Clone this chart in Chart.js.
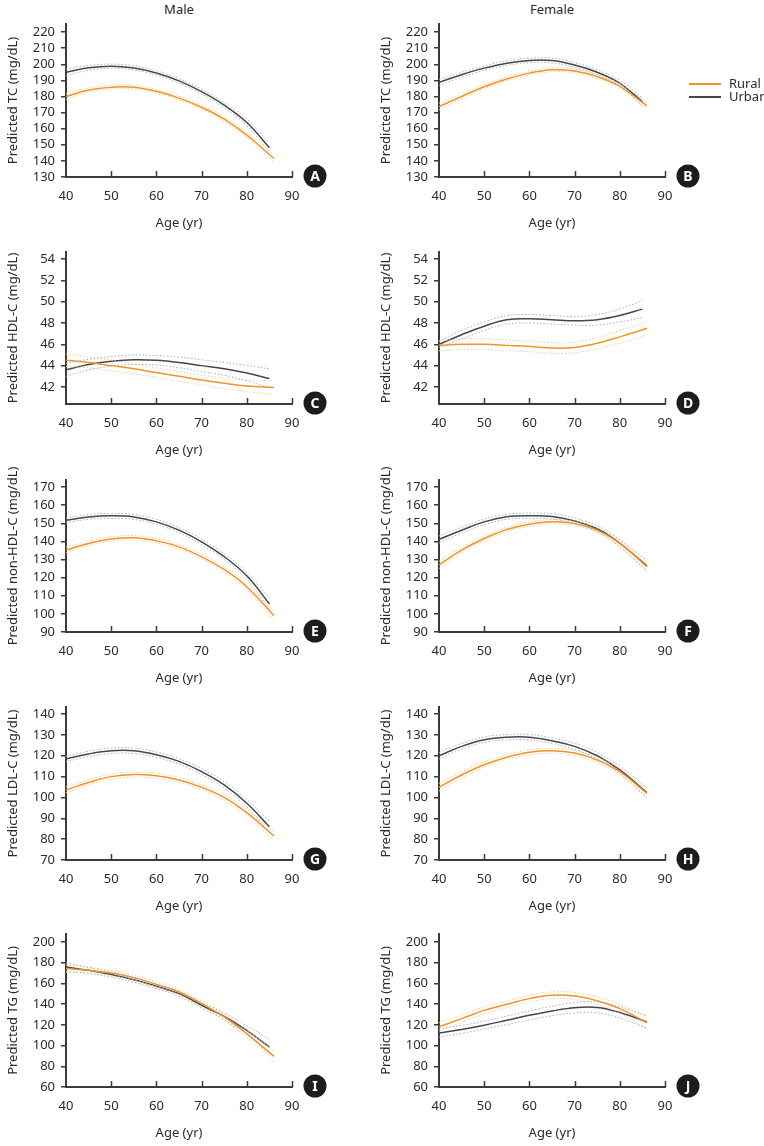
<!DOCTYPE html>
<html lang="en">
<head>
<meta charset="UTF-8" />
<script src="https://cdn.jsdelivr.net/npm/chart.js@4.4.1/dist/chart.umd.min.js"></script>
<title>Predicted lipid levels by age</title>
<style>
  body { margin: 0; background: #fff; font-family: "Noto Sans", sans-serif; color: #2b2b2b; }
  #wrap { position: relative; width: 764px; height: 1146px; overflow: hidden; }
  #wrap canvas { position: absolute; }
  .head { position: absolute; top: 0; width: 120px; text-align: center; font-size: 13px; line-height: 18px; }
  #legend { position: absolute; left: 689px; top: 77px; font-size: 13px; line-height: 13px; z-index: 5; }
  #legend div { height: 13px; display: flex; align-items: center; }
  #legend span.ln { display: inline-block; width: 32px; height: 2px; margin-right: 8px; }
</style>
</head>
<body>
<div id="wrap">
  <div class="head" style="left:119px">Male</div>
  <div class="head" style="left:492px">Female</div>
  <div id="legend">
    <div><span class="ln" style="background:#f39325"></span>Rural</div>
    <div><span class="ln" style="background:#43474c"></span>Urban</div>
  </div>
</div>
<script>
// ages (yr)
const ageUrban = [40, 45, 50, 55, 60, 65, 70, 75, 80, 85];
const ageRural = [40, 45, 50, 55, 60, 65, 70, 75, 80, 86];
const xTicks = [40, 50, 60, 70, 80, 90];

// tick labels
const tcTicks = [130, 140, 150, 160, 170, 180, 190, 200, 210, 220];
const hdlTicks = [42, 44, 46, 48, 50, 52, 54];
const nonHdlTicks = [90, 100, 110, 120, 130, 140, 150, 160, 170];
const ldlTicks = [70, 80, 90, 100, 110, 120, 130, 140];
const tgTicks = [60, 80, 100, 120, 140, 160, 180, 200];

// A: TC, male
const tcMaleUrban   = [195, 197.8, 198.8, 197.7, 194.6, 189.7, 183, 174.6, 163.8, 148.2];
const tcMaleUrbanHi = [197, 199.3, 200.1, 199, 195.9, 191.1, 184.5, 176.3, 165.8, 151];
const tcMaleUrbanLo = [193, 196.3, 197.5, 196.4, 193.3, 188.3, 181.5, 172.9, 161.8, 145.4];
const tcMaleRural   = [180, 184, 185.8, 185.8, 183.2, 179, 173.3, 165.9, 156, 141.5];
const tcMaleRuralHi = [181.8, 185.3, 187, 187, 184.4, 180.2, 174.5, 167.3, 157.6, 143.8];
const tcMaleRuralLo = [178.2, 182.7, 184.6, 184.6, 182, 177.8, 172.1, 164.5, 154.4, 139.2];

// B: TC, female
const tcFemaleUrban   = [188.7, 193.5, 197.6, 200.7, 202.4, 202.3, 199.5, 195, 188.2, 176.8];
const tcFemaleUrbanHi = [190.6, 195, 199, 202.1, 203.8, 203.8, 201, 196.6, 190, 179.2];
const tcFemaleUrbanLo = [186.8, 192, 196.2, 199.3, 201, 200.8, 198, 193.4, 186.4, 174.4];
const tcFemaleRural   = [173.8, 180, 186, 190.8, 194.5, 196.6, 195.8, 192.3, 186.3, 174.2];
const tcFemaleRuralHi = [175.8, 181.5, 187.3, 192, 195.7, 197.8, 197, 193.6, 187.8, 176.4];
const tcFemaleRuralLo = [171.8, 178.5, 184.7, 189.6, 193.3, 195.4, 194.6, 191, 184.8, 172];

// C: HDL-C, male
const hdlMaleUrban   = [43.6, 44.1, 44.4, 44.55, 44.5, 44.3, 44.0, 43.7, 43.3, 42.8];
const hdlMaleUrbanHi = [44.2, 44.6, 44.85, 45.0, 44.95, 44.8, 44.55, 44.3, 44.0, 43.7];
const hdlMaleUrbanLo = [43.0, 43.6, 43.95, 44.1, 44.05, 43.8, 43.45, 43.1, 42.6, 41.9];
const hdlMaleRural   = [44.5, 44.3, 44.0, 43.7, 43.35, 43.0, 42.65, 42.35, 42.1, 41.95];
const hdlMaleRuralHi = [45.1, 44.8, 44.5, 44.15, 43.8, 43.45, 43.1, 42.85, 42.65, 42.6];
const hdlMaleRuralLo = [43.9, 43.8, 43.5, 43.25, 42.9, 42.55, 42.2, 41.85, 41.55, 41.3];

// D: HDL-C, female
const hdlFemaleUrban   = [46.0, 46.9, 47.7, 48.3, 48.4, 48.3, 48.2, 48.3, 48.7, 49.3];
const hdlFemaleUrbanHi = [46.3, 47.3, 48.1, 48.7, 48.8, 48.7, 48.6, 48.8, 49.3, 50.1];
const hdlFemaleUrbanLo = [45.7, 46.5, 47.3, 47.9, 48.0, 47.9, 47.8, 47.8, 48.1, 48.5];
const hdlFemaleRural   = [45.9, 46.0, 46.0, 45.9, 45.8, 45.65, 45.7, 46.1, 46.7, 47.5];
const hdlFemaleRuralHi = [46.3, 46.5, 46.5, 46.4, 46.3, 46.15, 46.2, 46.6, 47.3, 48.1];
const hdlFemaleRuralLo = [45.4, 45.5, 45.5, 45.4, 45.3, 45.15, 45.2, 45.6, 46.1, 46.9];

// E: non-HDL-C, male
const nhdlMaleUrban   = [151.7, 153.5, 154.1, 153.5, 150.8, 146.2, 139.8, 131.6, 121, 105.5];
const nhdlMaleUrbanHi = [153, 154.8, 155.5, 154.9, 152.2, 147.6, 141.3, 133.2, 123, 108.5];
const nhdlMaleUrbanLo = [150.4, 152.2, 152.7, 152.1, 149.4, 144.8, 138.3, 130, 119, 102.5];
const nhdlMaleRural   = [135.2, 138.9, 141.3, 142, 140.3, 137, 131.5, 124.5, 115, 99];
const nhdlMaleRuralHi = [136.8, 140.1, 142.5, 143.2, 141.5, 138.2, 132.8, 126, 116.7, 101.3];
const nhdlMaleRuralLo = [133.6, 137.7, 140.1, 140.8, 139.1, 135.8, 130.2, 123, 113.3, 96.7];

// F: non-HDL-C, female (urban also runs to 86 here)
const nhdlFemaleUrban   = [141.1, 146.2, 150.8, 153.6, 154.2, 153.8, 151.3, 147, 139, 126.5];
const nhdlFemaleUrbanHi = [143, 147.8, 152.3, 155, 155.6, 155.3, 152.9, 148.7, 141, 129.5];
const nhdlFemaleUrbanLo = [139.2, 144.6, 149.3, 152.2, 152.8, 152.3, 149.7, 145.3, 137, 123.5];
const nhdlFemaleRural   = [127, 135.2, 141.6, 146.6, 149.5, 150.8, 149.9, 146.2, 139, 126];
const nhdlFemaleRuralHi = [129, 136.7, 142.9, 147.8, 150.7, 152, 151.1, 147.5, 140.5, 128.2];
const nhdlFemaleRuralLo = [125, 133.7, 140.3, 145.4, 148.3, 149.6, 148.7, 144.9, 137.5, 123.8];

// G: LDL-C, male
const ldlMaleUrban   = [118.5, 120.9, 122.4, 122.4, 120.5, 117.3, 112.4, 106, 97.2, 86];
const ldlMaleUrbanHi = [119.8, 122.2, 123.7, 123.7, 121.8, 118.6, 113.8, 107.6, 99, 88.6];
const ldlMaleUrbanLo = [117.2, 119.6, 121.1, 121.1, 119.2, 116, 111, 104.4, 95.4, 83.4];
const ldlMaleRural   = [103.6, 107.2, 110, 111, 110.4, 108.4, 104.9, 100, 92.7, 81.5];
const ldlMaleRuralHi = [105, 108.4, 111.2, 112.2, 111.6, 109.6, 106.1, 101.4, 94.3, 83.6];
const ldlMaleRuralLo = [102.2, 106, 108.8, 109.8, 109.2, 107.2, 103.7, 98.6, 91.1, 79.4];

// H: LDL-C, female (urban also runs to 86 here)
const ldlFemaleUrban   = [120, 124.5, 127.7, 128.9, 128.9, 127.2, 124.5, 120, 113.2, 102.3];
const ldlFemaleUrbanHi = [121.6, 125.9, 129, 130.2, 130.2, 128.5, 126, 121.6, 115, 104.8];
const ldlFemaleUrbanLo = [118.4, 123.1, 126.4, 127.6, 127.6, 125.9, 123, 118.4, 111.4, 99.8];
const ldlFemaleRural   = [104.9, 110.8, 115.7, 119.3, 121.7, 122.4, 121.3, 118, 112.4, 102];
const ldlFemaleRuralHi = [106.7, 112.3, 117, 120.5, 122.9, 123.6, 122.5, 119.3, 113.9, 104];
const ldlFemaleRuralLo = [103.1, 109.3, 114.4, 118.1, 120.5, 121.2, 120.1, 116.7, 110.9, 100];

// I: TG, male
const tgMaleUrban   = [175.9, 172.6, 168.5, 163.6, 157.2, 150.1, 138.9, 128.2, 114.7, 98.6];
const tgMaleUrbanHi = [180, 175.5, 171, 166, 159.5, 152.5, 141.5, 131.5, 119, 106];
const tgMaleUrbanLo = [171.8, 169.7, 166, 161.2, 154.9, 147.7, 136.3, 124.9, 110.4, 91.2];
const tgMaleRural   = [174.3, 172.6, 170, 165.6, 159.1, 151.7, 140.5, 127.6, 111.5, 89.6];
const tgMaleRuralHi = [177.8, 175.4, 172.5, 168, 161.5, 154.2, 143.2, 130.6, 115, 94.5];
const tgMaleRuralLo = [170.8, 169.8, 167.5, 163.2, 156.7, 149.2, 137.8, 124.6, 108, 84.7];

// J: TG, female (urban also runs to 86 here)
const tgFemaleUrban   = [112.1, 115.6, 119.7, 124.4, 129.2, 133.4, 136.5, 136.8, 132, 122.8];
const tgFemaleUrbanHi = [116, 119.5, 123.5, 128.5, 133.5, 138, 141.5, 142, 137.5, 129];
const tgFemaleUrbanLo = [108.2, 111.7, 115.9, 120.3, 124.9, 128.8, 131.5, 131.6, 126.5, 116.6];
const tgFemaleRural   = [118, 126, 134, 139.8, 145.3, 148.5, 147.8, 143.2, 135.6, 122];
const tgFemaleRuralHi = [122, 129.5, 137.3, 143, 148.5, 151.8, 151.3, 147, 139.8, 127.5];
const tgFemaleRuralLo = [114, 122.5, 130.7, 136.6, 142.1, 145.2, 144.3, 139.4, 131.4, 116.5];

const ruralColor = '#f39325';
const urbanColor = '#43474c';
const ruralCiColor = '#f7c98f';
const urbanCiColor = '#a9adb2';
const axisColor = '#3b3b3b';
const textColor = '#2b2b2b';
const fontFamily = "'Noto Sans', sans-serif";

// layout of the ten panels
const panels = [
  { letter: 'A', col: 0, top: 24,  bottom: 177,  title: 'Predicted TC (mg/dL)',        min: 130,  max: 225,   ticks: tcTicks,     uAge: ageUrban, u: [tcMaleUrban, tcMaleUrbanHi, tcMaleUrbanLo], r: [tcMaleRural, tcMaleRuralHi, tcMaleRuralLo] },
  { letter: 'B', col: 1, top: 24,  bottom: 177,  title: 'Predicted TC (mg/dL)',        min: 130,  max: 225,   ticks: tcTicks,     uAge: ageUrban, u: [tcFemaleUrban, tcFemaleUrbanHi, tcFemaleUrbanLo], r: [tcFemaleRural, tcFemaleRuralHi, tcFemaleRuralLo] },
  { letter: 'C', col: 0, top: 252, bottom: 404,  title: 'Predicted HDL-C (mg/dL)',     min: 40.4, max: 54.66, ticks: hdlTicks,    uAge: ageUrban, u: [hdlMaleUrban, hdlMaleUrbanHi, hdlMaleUrbanLo], r: [hdlMaleRural, hdlMaleRuralHi, hdlMaleRuralLo] },
  { letter: 'D', col: 1, top: 252, bottom: 404,  title: 'Predicted HDL-C (mg/dL)',     min: 40.4, max: 54.66, ticks: hdlTicks,    uAge: ageUrban, u: [hdlFemaleUrban, hdlFemaleUrbanHi, hdlFemaleUrbanLo], r: [hdlFemaleRural, hdlFemaleRuralHi, hdlFemaleRuralLo] },
  { letter: 'E', col: 0, top: 480, bottom: 632,  title: 'Predicted non-HDL-C (mg/dL)', min: 90,   max: 173.9, ticks: nonHdlTicks, uAge: ageUrban, u: [nhdlMaleUrban, nhdlMaleUrbanHi, nhdlMaleUrbanLo], r: [nhdlMaleRural, nhdlMaleRuralHi, nhdlMaleRuralLo] },
  { letter: 'F', col: 1, top: 480, bottom: 632,  title: 'Predicted non-HDL-C (mg/dL)', min: 90,   max: 173.9, ticks: nonHdlTicks, uAge: ageRural, u: [nhdlFemaleUrban, nhdlFemaleUrbanHi, nhdlFemaleUrbanLo], r: [nhdlFemaleRural, nhdlFemaleRuralHi, nhdlFemaleRuralLo] },
  { letter: 'G', col: 0, top: 707, bottom: 860,  title: 'Predicted LDL-C (mg/dL)',     min: 70,   max: 143.4, ticks: ldlTicks,    uAge: ageUrban, u: [ldlMaleUrban, ldlMaleUrbanHi, ldlMaleUrbanLo], r: [ldlMaleRural, ldlMaleRuralHi, ldlMaleRuralLo] },
  { letter: 'H', col: 1, top: 707, bottom: 860,  title: 'Predicted LDL-C (mg/dL)',     min: 70,   max: 143.4, ticks: ldlTicks,    uAge: ageRural, u: [ldlFemaleUrban, ldlFemaleUrbanHi, ldlFemaleUrbanLo], r: [ldlFemaleRural, ldlFemaleRuralHi, ldlFemaleRuralLo] },
  { letter: 'I', col: 0, top: 934, bottom: 1087, title: 'Predicted TG (mg/dL)',        min: 60,   max: 207.7, ticks: tgTicks,     uAge: ageUrban, u: [tgMaleUrban, tgMaleUrbanHi, tgMaleUrbanLo], r: [tgMaleRural, tgMaleRuralHi, tgMaleRuralLo] },
  { letter: 'J', col: 1, top: 934, bottom: 1087, title: 'Predicted TG (mg/dL)',        min: 60,   max: 207.7, ticks: tgTicks,     uAge: ageRural, u: [tgFemaleUrban, tgFemaleUrbanHi, tgFemaleUrbanLo], r: [tgFemaleRural, tgFemaleRuralHi, tgFemaleRuralLo] },
];

const colLeft = [0, 373];   // canvas left edge per column
const yAxisW = 66;
const xAxisH = 56;
const padTop = 20;
const padRight = 38;
const canvasW = 330;

function pts(ages, vals) {
  return ages.map((a, i) => ({ x: a, y: vals[i] }));
}

function ciSet(ages, vals, color) {
  return { data: pts(ages, vals), borderColor: color, borderWidth: 1, borderDash: [1.5, 2], tension: 0.4, pointRadius: 0 };
}

function mainSet(ages, vals, color) {
  return { data: pts(ages, vals), borderColor: color, borderWidth: 1.5, tension: 0.4, pointRadius: 0 };
}

// inward x ticks and the circled panel letter
const panelDeco = {
  id: 'panelDeco',
  afterDraw(chart, args, opts) {
    const { ctx, chartArea } = chart;
    const x = chart.scales.x;
    ctx.save();
    ctx.strokeStyle = axisColor;
    ctx.lineWidth = 1.5;
    x.ticks.forEach(t => {
      if (t.value === x.min) return;
      const px = Math.round(x.getPixelForValue(t.value)) + 0.5;
      ctx.beginPath();
      ctx.moveTo(px, chartArea.bottom);
      ctx.lineTo(px, chartArea.bottom - 6);
      ctx.stroke();
    });
    const cx = chartArea.right + 23;
    const cy = chartArea.bottom - 1;
    ctx.fillStyle = '#1c1c1c';
    ctx.beginPath();
    ctx.arc(cx, cy, 11.5, 0, Math.PI * 2);
    ctx.fill();
    ctx.fillStyle = '#ffffff';
    ctx.font = "bold 14px " + fontFamily;
    ctx.textAlign = 'center';
    ctx.textBaseline = 'middle';
    ctx.fillText(opts.letter, cx, cy + 1);
    ctx.restore();
  }
};

const wrap = document.getElementById('wrap');

panels.forEach(p => {
  const cv = document.createElement('canvas');
  const h = p.bottom - p.top + padTop + xAxisH;
  cv.width = canvasW;
  cv.height = h;
  cv.style.left = colLeft[p.col] + 'px';
  cv.style.top = (p.top - padTop) + 'px';
  cv.style.width = canvasW + 'px';
  cv.style.height = h + 'px';
  wrap.appendChild(cv);

  const rAge = ageRural;
  new Chart(cv, {
    type: 'line',
    data: {
      datasets: [
        ciSet(p.uAge, p.u[1], urbanCiColor),
        ciSet(p.uAge, p.u[2], urbanCiColor),
        ciSet(rAge, p.r[1], ruralCiColor),
        ciSet(rAge, p.r[2], ruralCiColor),
        mainSet(rAge, p.r[0], ruralColor),
        mainSet(p.uAge, p.u[0], urbanColor),
      ]
    },
    plugins: [panelDeco],
    options: {
      responsive: false,
      animation: false,
      devicePixelRatio: 1,
      layout: { padding: { top: padTop, right: padRight, left: 0, bottom: 0 } },
      plugins: {
        legend: { display: false },
        tooltip: { enabled: false },
        panelDeco: { letter: p.letter }
      },
      scales: {
        x: {
          type: 'linear',
          min: 40,
          max: 90,
          afterBuildTicks: s => { s.ticks = xTicks.map(v => ({ value: v })); },
          afterFit: s => { s.height = xAxisH; },
          grid: { display: false, drawTicks: false },
          border: { display: true, color: axisColor, width: 2 },
          ticks: { autoSkip: false, maxRotation: 0, padding: 11, color: textColor, font: { family: fontFamily, size: 13 } },
          title: { display: true, text: 'Age (yr)', color: textColor, padding: { top: 0, bottom: 2 }, font: { family: fontFamily, size: 13 } }
        },
        y: {
          type: 'linear',
          min: p.min,
          max: p.max,
          afterBuildTicks: s => { s.ticks = p.ticks.map(v => ({ value: v })); },
          afterFit: s => { s.width = yAxisW; },
          grid: { drawOnChartArea: false, drawTicks: true, tickLength: 5, color: axisColor, lineWidth: 1.5 },
          border: { display: true, color: axisColor, width: 2 },
          ticks: { autoSkip: false, padding: 6, color: textColor, font: { family: fontFamily, size: 13 } },
          title: { display: true, text: p.title, color: textColor, padding: { top: 5, bottom: 0 }, font: { family: fontFamily, size: 13 } }
        }
      }
    }
  });
});
</script>
</body>
</html>
